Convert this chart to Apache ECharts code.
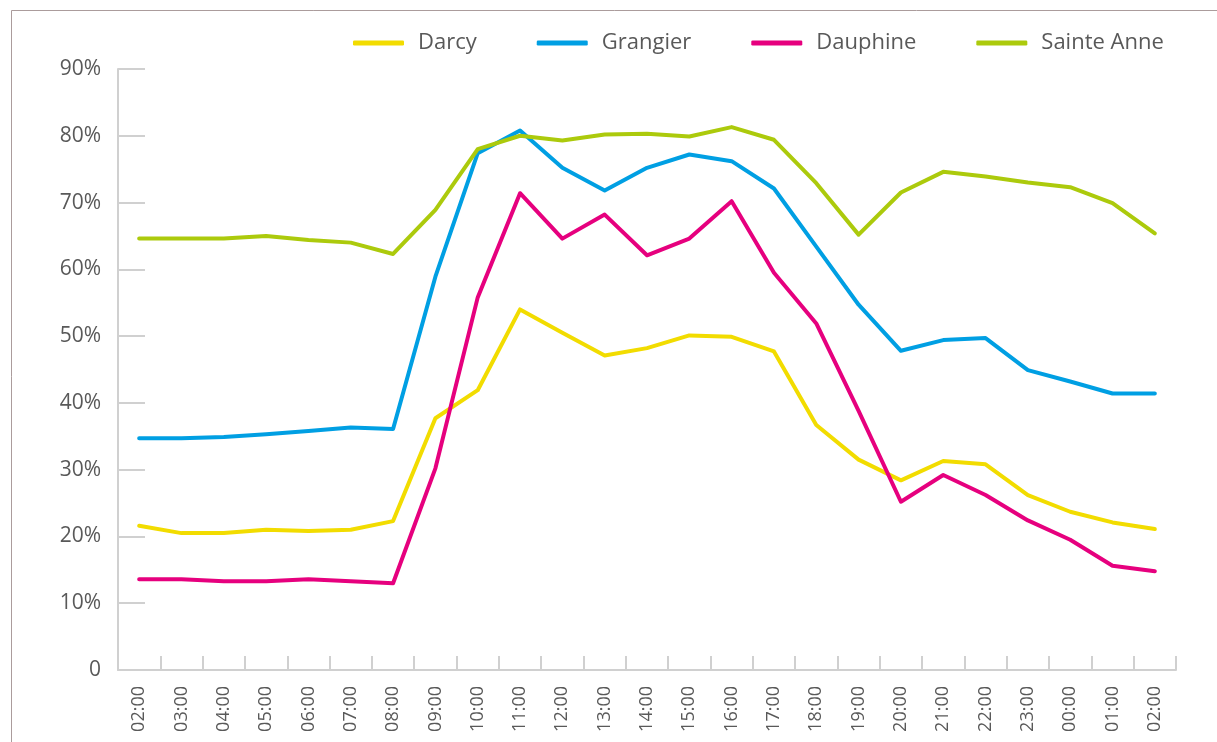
<!DOCTYPE html>
<html>
<head>
<meta charset="utf-8">
<title>Taux d'occupation horaire</title>
<script src="https://cdn.jsdelivr.net/npm/echarts@6/dist/echarts.min.js"></script>
<style>
  html, body { margin: 0; padding: 0; background: #ffffff; }
  #chart { width: 1217px; height: 742px; }
</style>
</head>
<body>
<div id="chart"></div>
<script>
// Hourly occupancy (%) per site, from 02:00 to 02:00 the next day
const hours = ['02:00','03:00','04:00','05:00','06:00','07:00','08:00','09:00','10:00','11:00','12:00','13:00',
               '14:00','15:00','16:00','17:00','18:00','19:00','20:00','21:00','22:00','23:00','00:00','01:00','02:00'];

const darcy      = [21.6, 20.5, 20.5, 21.0, 20.8, 21.0, 22.3, 37.7, 41.9, 54.0, 50.5, 47.1,
                    48.2, 50.1, 49.9, 47.7, 36.7, 31.5, 28.4, 31.3, 30.8, 26.2, 23.7, 22.1, 21.1];
const grangier   = [34.7, 34.7, 34.9, 35.3, 35.8, 36.3, 36.1, 58.9, 77.4, 80.8, 75.2, 71.8,
                    75.2, 77.2, 76.2, 72.1, 63.4, 54.7, 47.8, 49.4, 49.7, 44.9, 43.2, 41.4, 41.4];
const dauphine   = [13.6, 13.6, 13.3, 13.3, 13.6, 13.3, 13.0, 30.2, 55.8, 71.4, 64.6, 68.2,
                    62.1, 64.6, 70.2, 59.5, 51.9, 38.8, 25.2, 29.2, 26.2, 22.4, 19.5, 15.6, 14.8];
const sainteAnne = [64.6, 64.6, 64.6, 65.0, 64.4, 64.0, 62.3, 68.9, 78.0, 80.0, 79.3, 80.2,
                    80.3, 79.9, 81.3, 79.4, 72.9, 65.2, 71.5, 74.6, 73.9, 73.0, 72.3, 69.9, 65.4];

const seriesNames  = ['Darcy', 'Grangier', 'Dauphine', 'Sainte Anne'];
const seriesValues = [darcy, grangier, dauphine, sainteAnne];
const seriesColors = ['#f2dc00', '#009fe3', '#e6007e', '#acca0c'];

const textColor = '#595959';
const axisColor = '#d0d0d0';
const fontFamily = '"Open Sans", "Noto Sans", sans-serif';

const chart = echarts.init(document.getElementById('chart'), null, { renderer: 'canvas' });

chart.setOption({
  animation: false,
  backgroundColor: '#ffffff',
  graphic: [{
    type: 'rect',
    left: 9, top: 8,
    shape: { x: 0.5, y: 0.5, width: 1400, height: 900 },
    style: { fill: 'none', stroke: '#ab9c9c', lineWidth: 1 },
    silent: true,
    z: -1
  }],
  legend: {
    data: seriesNames,
    left: 348,
    top: 26,
    icon: 'roundRect',
    itemWidth: 51,
    itemHeight: 5,
    itemGap: 60,
    textStyle: {
      color: textColor,
      fontFamily: fontFamily,
      fontSize: 22,
      lineHeight: 24,
      padding: [0, 0, 0, 9]
    }
  },
  grid: {
    left: 118,
    right: 41,
    top: 69,
    bottom: 72,
    containLabel: false
  },
  xAxis: {
    type: 'category',
    data: hours,
    boundaryGap: true,
    axisLine: { show: true, lineStyle: { color: axisColor, width: 2 } },
    axisTick: { show: true, inside: true, length: 14, interval: 0, lineStyle: { color: axisColor, width: 2 } },
    axisLabel: {
      interval: 0,
      rotate: 90,
      margin: 16,
      color: textColor,
      fontFamily: fontFamily,
      fontSize: 18
    },
    splitLine: { show: false }
  },
  yAxis: {
    type: 'value',
    min: 0,
    max: 90,
    interval: 10,
    axisLine: { show: true, lineStyle: { color: axisColor, width: 2 } },
    axisTick: { show: true, inside: true, length: 27, lineStyle: { color: axisColor, width: 2 } },
    axisLabel: {
      margin: 17,
      color: textColor,
      fontFamily: fontFamily,
      fontSize: 21,
      formatter: v => (v === 0 ? '0' : v + '%')
    },
    splitLine: { show: false }
  },
  series: seriesNames.map((name, i) => ({
    name: name,
    type: 'line',
    data: seriesValues[i],
    symbol: 'none',
    smooth: false,
    color: seriesColors[i],
    lineStyle: { color: seriesColors[i], width: 4, cap: 'round', join: 'round' },
    itemStyle: { color: seriesColors[i] },
    z: 2
  }))
});
</script>
</body>
</html>
